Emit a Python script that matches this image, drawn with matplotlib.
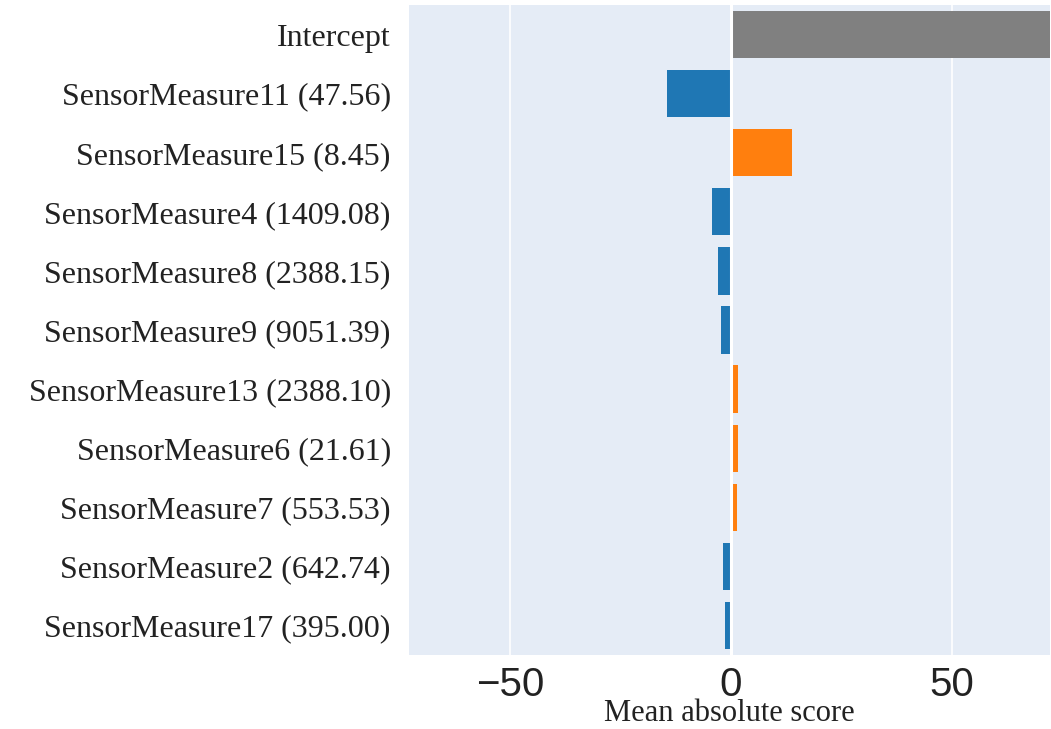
import matplotlib
matplotlib.use("Agg")
import matplotlib.pyplot as plt

labels = ["Intercept",
          "SensorMeasure11 (47.56)",
          "SensorMeasure15 (8.45)",
          "SensorMeasure4 (1409.08)",
          "SensorMeasure8 (2388.15)",
          "SensorMeasure9 (9051.39)",
          "SensorMeasure13 (2388.10)",
          "SensorMeasure6 (21.61)",
          "SensorMeasure7 (553.53)",
          "SensorMeasure2 (642.74)",
          "SensorMeasure17 (395.00)"]
values = [78.0, -14.6, 13.8, -4.4, -2.9, -2.2, 1.7, 1.65, 1.3, -1.7, -1.3]
xticks = [-50, 0, 50]

BLUE = "#1f77b4"
ORANGE = "#ff7f0e"
GREY = "#808080"
TEXT = "#222222"
colors = [GREY if i == 0 else (ORANGE if v > 0 else BLUE) for i, v in enumerate(values)]

fig = plt.figure(figsize=(10.51, 7.29), dpi=100)
ax = fig.add_axes([0.389, 0.1015, 0.610, 0.8916])
ax.set_facecolor("#e5ecf6")

ax.barh(labels, values, height=0.8, color=colors, edgecolor="none", zorder=2)
for x in xticks:
    ax.axvline(x, color="white", lw=1.2 if x != 0 else 2.2, zorder=1 if x != 0 else 3)

ax.set_xlim(-73, 72.3)
ax.set_ylim(10.5, -0.5)
ax.set_xticks(xticks)
ax.set_xticklabels(["\u221250", "0", "50"], fontfamily="Liberation Sans", fontsize=29, color=TEXT)
ax.tick_params(axis="x", length=0, pad=8)
ax.tick_params(axis="y", length=0, pad=13)
for t in ax.get_yticklabels():
    t.set_fontfamily("Liberation Serif")
    t.set_fontsize(23)
    t.set_color(TEXT)
ax.set_xlabel("Mean absolute score", fontfamily="Liberation Serif", fontsize=22,
              color=TEXT, labelpad=-4)
for s in ax.spines.values():
    s.set_visible(False)

fig.savefig("out.png", dpi=100)
